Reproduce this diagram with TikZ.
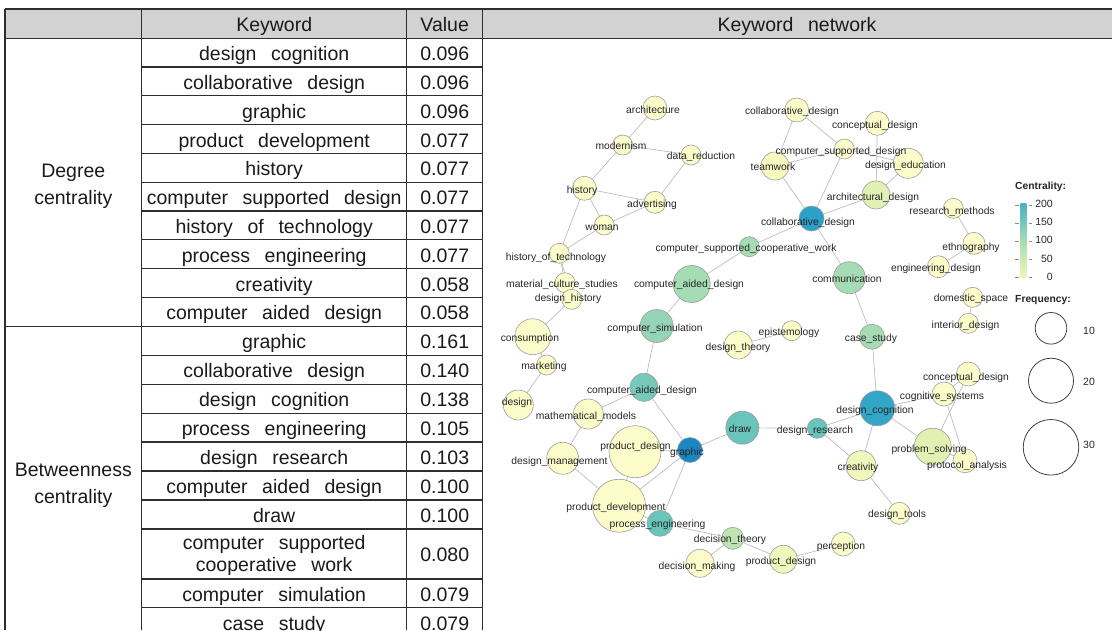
\documentclass[tikz,border=0pt]{standalone}
\usepackage{fontspec}
\setmainfont{Liberation Sans}[WordSpace=2.7]
\usetikzlibrary{backgrounds}

% table colours
\definecolor{rule}{HTML}{2E2E2E}
\definecolor{headfill}{HTML}{D2D2D2}
\definecolor{ink}{HTML}{1A1A1A}
% network colours
\definecolor{lblc}{HTML}{262626}
\definecolor{edgec}{HTML}{BDBDBD}
\definecolor{nodeline}{HTML}{9C9C9C}
\definecolor{cY}{HTML}{FCFCCB}
\definecolor{cTw}{HTML}{F7F9C0}
\definecolor{cLY}{HTML}{F0F7BD}
\definecolor{cLG}{HTML}{E2F1B3}
\definecolor{cG}{HTML}{A6DCB4}
\definecolor{cGs}{HTML}{96D4B7}
\definecolor{cGd}{HTML}{BDE4B1}
\definecolor{cTeal}{HTML}{69C4BB}
\definecolor{cTealL}{HTML}{76C8BB}
\definecolor{cBlue}{HTML}{2BA0C9}
\definecolor{cBlueL}{HTML}{33A5C6}
\definecolor{cBlueD}{HTML}{1A87C2}
% colour bar stops
\definecolor{cb0}{HTML}{FFFFCC}
\definecolor{cb50}{HTML}{DFF2B2}
\definecolor{cb100}{HTML}{A6DBB5}
\definecolor{cb150}{HTML}{5EBFC0}
\definecolor{cb200}{HTML}{2A9BC8}
\pgfdeclareverticalshading{centralitybar}{17pt}{color(0pt)=(cb0); color(18pt)=(cb50); color(37pt)=(cb100); color(55pt)=(cb150); color(74pt)=(cb200)}

\tikzset{
  tline/.style={draw=rule, line width=1.2pt},
  ttext/.style={font=\fontsize{19.5}{27}\selectfont, text=ink, inner sep=0pt, anchor=base, align=center},
  kw/.style 2 args={circle, draw=nodeline, line width=0.6pt, fill=#2, minimum size=#1, inner sep=0pt, outer sep=0pt},
  lbl/.style={font=\fontsize{10.3}{12}\selectfont, text=lblc, inner sep=0pt, text height=7.5pt, text depth=2pt},
  edge/.style={draw=edgec, line width=0.7pt},
  legtitle/.style={font=\fontsize{10.3}{12}\selectfont\bfseries, text=lblc, inner sep=0pt, anchor=west, text height=7.5pt, text depth=2pt},
  legnum/.style={font=\fontsize{10.5}{12}\selectfont, text=lblc, inner sep=0pt, text height=7.5pt, text depth=2pt},
  freqring/.style={circle, draw=black!75, line width=0.8pt, inner sep=0pt}
}

\begin{document}
\begin{tikzpicture}[x=1pt,y=-1pt]
\useasboundingbox (0,0) rectangle (1112,630);

% ---------------- table ----------------
\fill[headfill] (5,9.3) rectangle (1112,38.3);
\draw[tline, line width=1.7pt] (5,9.3) -- (1112,9.3);
\draw[tline] (5,38.3) -- (1112,38.3);
\draw[tline] (5,9.3) -- (5,630);
\draw[tline] (141.7,9.3) -- (141.7,630);
\draw[tline] (406.7,9.3) -- (406.7,630);
\draw[tline] (482.7,9.3) -- (482.7,630);
% row rules of the degree block
\foreach \i in {1,...,9}
  \draw[tline] (141.7,38.3+\i*28.79) -- (482.7,38.3+\i*28.79);
\draw[tline] (5,326.2) -- (482.7,326.2);
% row rules of the betweenness block
\foreach \i in {1,...,7}
  \draw[tline] (141.7,326.2+\i*28.97) -- (482.7,326.2+\i*28.97);
\draw[tline] (141.7,579) -- (482.7,579);
\draw[tline] (141.7,607.8) -- (482.7,607.8);

% header
\node[ttext] (hkw) at (274.2,31.6) {Keyword};
\node[ttext] (hval) at (444.7,31.6) {Value};
\node[ttext] (hnet) at (797,31.6) {Keyword network};

% category labels (base anchor sits on the last line)
\node[ttext] (degcat) at (73.3,204) {Degree\\centrality};
\node[ttext] (betcat) at (73.3,503.3) {Betweenness\\centrality};

% degree centrality rows
\foreach \k/\v [count=\i] in {design cognition/0.096, collaborative design/0.096, graphic/0.096,
  product development/0.077, history/0.077, computer supported design/0.077,
  history of technology/0.077, process engineering/0.077, creativity/0.058, computer aided design/0.058}{
  \node[ttext] (dk\i) at (274.2,38.3+\i*28.79-6.3) {\k};
  \node[ttext] (dv\i) at (444.7,38.3+\i*28.79-6.3) {\v};
}
% betweenness centrality rows
\foreach \k/\v [count=\i] in {graphic/0.161, collaborative design/0.140, design cognition/0.138,
  process engineering/0.105, design research/0.103, computer aided design/0.100, draw/0.100}{
  \node[ttext] (bk\i) at (274.2,326.2+\i*28.97-6.4) {\k};
  \node[ttext] (bv\i) at (444.7,326.2+\i*28.97-6.4) {\v};
}
\node[ttext, font=\fontsize{19.5}{22}\selectfont] (bk8) at (274.2,571.5) {computer supported\\cooperative work};
\node[ttext] (bv8) at (444.7,561.5) {0.080};
\node[ttext] (bk9) at (274.2,601.5) {computer simulation};
\node[ttext] (bv9) at (444.7,601.5) {0.079};
\node[ttext] (bk10) at (274.2,630.3) {case study};
\node[ttext] (bv10) at (444.7,630.3) {0.079};

% ---------------- keyword network ----------------
% circles: name, centre, diameter, fill
\node[kw={24}{cY}]     (arch)       at (655,108)     {};
\node[kw={20}{cY}]     (modern)     at (622.7,145)   {};
\node[kw={20}{cY}]     (datared)    at (691,155)     {};
\node[kw={24}{cY}]     (hist)       at (584.3,188.3) {};
\node[kw={22}{cY}]     (advert)     at (655,202.3)   {};
\node[kw={20}{cY}]     (woman)      at (604.3,225)   {};
\node[kw={20}{cY}]     (histtech)   at (559.3,253.3) {};
\node[kw={20}{cY}]     (matcult)    at (565,282.7)   {};
\node[kw={20}{cY}]     (deshist)    at (571.7,299.3) {};
\node[kw={36}{cY}]     (consum)     at (532.7,336.7) {};
\node[kw={20}{cY}]     (market)     at (546.7,365)   {};
\node[kw={30}{cY}]     (design)     at (518.3,405)   {};
\node[kw={24}{cY}]     (collabtop)  at (796.7,110)   {};
\node[kw={24}{cY}]     (concepttop) at (877.3,123.3) {};
\node[kw={20}{cY}]     (csd)        at (844.3,149)   {};
\node[kw={28}{cTw}]    (teamwork)   at (775,166)     {};
\node[kw={30}{cY}]     (desedu)     at (908.3,163.3) {};
\node[kw={28}{cLG}]    (archdes)    at (876,195)     {};
\node[kw={25}{cBlue}]  (collab)     at (811.5,218.5) {};
\node[kw={20}{cY}]     (resmeth)    at (953.3,208.3) {};
\node[kw={22}{cY}]     (ethno)      at (974,243.3)   {};
\node[kw={22}{cY}]     (engdes)     at (938.3,266.7) {};
\node[kw={20}{cG}]     (cscw)       at (749.3,246.7) {};
\node[kw={37}{cG}]     (cadtop)     at (691.7,284)   {};
\node[kw={32}{cG}]     (comm)       at (849.3,277.7) {};
\node[kw={33}{cGs}]    (csim)       at (656.7,326)   {};
\node[kw={20}{cY}]     (episte)     at (791.7,330.7) {};
\node[kw={28}{cY}]     (destheory)  at (738.3,345)   {};
\node[kw={20}{cY}]     (domsp)      at (972.7,297.3) {};
\node[kw={20}{cY}]     (interior)   at (968.3,323.3) {};
\node[kw={25}{cG}]     (casestudy)  at (872,336.7)   {};
\node[kw={28}{cTealL}] (cadlow)     at (644,387.3)   {};
\node[kw={30}{cY}]     (mathmod)    at (588.3,414)   {};
\node[kw={24}{cY}]     (conceptlow) at (968.3,374)   {};
\node[kw={24}{cY}]     (cogsys)     at (944,394)     {};
\node[kw={35}{cBlueL}] (descog)     at (877.3,408.3) {};
\node[kw={33}{cTeal}]  (draw)       at (742.3,427.7) {};
\node[kw={20}{cTeal}]  (desres)     at (817.3,428.3) {};
\node[kw={52}{cY}]     (proddes)    at (635,451.7)   {};
\node[kw={25}{cBlueD}] (graphic)    at (690,450)     {};
\node[kw={32}{cY}]     (desmgmt)    at (562.7,458.3) {};
\node[kw={37}{cLG}]    (probsolv)   at (932.7,446.7) {};
\node[kw={24}{cY}]     (protocol)   at (965,460.7)   {};
\node[kw={30}{cLY}]    (creativity) at (861,465.7)   {};
\node[kw={53}{cY}]     (proddev)    at (619,505.7)   {};
\node[kw={26}{cTeal}]  (proceng)    at (660,523.3)   {};
\node[kw={22}{cY}]     (destools)   at (899.3,513.3) {};
\node[kw={22}{cGd}]    (dectheory)  at (732.7,538.3) {};
\node[kw={28}{cY}]     (decmaking)  at (700,563.3)   {};
\node[kw={28}{cLY}]    (proddesb)   at (783.3,559.3) {};
\node[kw={24}{cY}]     (percep)     at (843.3,544)   {};

% co-occurrence links, kept under the circles
\begin{scope}[on background layer]
\foreach \a/\b in {arch/modern, modern/datared, modern/hist, datared/advert, hist/advert,
  hist/woman, woman/advert, hist/histtech, woman/histtech, histtech/matcult, histtech/deshist,
  matcult/deshist, deshist/consum, consum/market, market/design,
  collabtop/teamwork, collabtop/csd, csd/teamwork, csd/collab, csd/desedu,
  concepttop/archdes, desedu/archdes, archdes/collab, teamwork/collab,
  collab/cscw, cscw/cadtop, collab/comm, cadtop/csim, csim/cadlow,
  cadlow/mathmod, cadlow/graphic, mathmod/desmgmt, desmgmt/proddev,
  proddes/proddev, proddes/graphic, proddev/graphic, graphic/proceng, proddev/proceng,
  graphic/draw, draw/desres, desres/descog, desres/creativity,
  descog/casestudy, casestudy/comm, descog/creativity, descog/probsolv, descog/cogsys,
  cogsys/conceptlow, conceptlow/probsolv, cogsys/protocol, probsolv/protocol,
  creativity/destools, proceng/dectheory, dectheory/decmaking, dectheory/proddesb,
  proddesb/percep, resmeth/ethno, ethno/engdes, domsp/interior, episte/destheory}
  \draw[edge] (\a) -- (\b);
\end{scope}

% keyword labels
\node[lbl] (arch-t)       at (653,111)   {architecture};
\node[lbl] (modern-t)     at (621,147)   {modernism};
\node[lbl] (datared-t)    at (701,157)   {data\_reduction};
\node[lbl] (hist-t)       at (582,191)   {history};
\node[lbl] (advert-t)     at (652,205)   {advertising};
\node[lbl] (woman-t)      at (602,228)   {woman};
\node[lbl] (histtech-t)   at (556,258)   {history\_of\_technology};
\node[lbl] (matcult-t)    at (562,285)   {material\_culture\_studies};
\node[lbl] (deshist-t)    at (568,299)   {design\_history};
\node[lbl] (consum-t)     at (530,339)   {consumption};
\node[lbl] (market-t)     at (544,367)   {marketing};
\node[lbl] (design-t)     at (517,403)   {design};
\node[lbl] (collabtop-t)  at (792,112)   {collaborative\_design};
\node[lbl] (concepttop-t) at (875,126)   {conceptual\_design};
\node[lbl] (csd-t)        at (841,152)   {computer\_supported\_design};
\node[lbl] (teamwork-t)   at (773,168)   {teamwork};
\node[lbl] (desedu-t)     at (905.5,166) {design\_education};
\node[lbl] (archdes-t)    at (873,198)   {architectural\_design};
\node[lbl] (collab-t)     at (808,222.5) {collaborative\_design};
\node[lbl] (resmeth-t)    at (952,212)   {research\_methods};
\node[lbl] (ethno-t)      at (971,248)   {ethnography};
\node[lbl] (engdes-t)     at (936,269)   {engineering\_design};
\node[lbl] (cscw-t)       at (746,248.3) {computer\_supported\_cooperative\_work};
\node[lbl] (cadtop-t)     at (689,285)   {computer\_aided\_design};
\node[lbl] (comm-t)       at (847,279.5) {communication};
\node[lbl] (csim-t)       at (655,329)   {computer\_simulation};
\node[lbl] (episte-t)     at (789,333)   {epistemology};
\node[lbl] (destheory-t)  at (738,348)   {design\_theory};
\node[lbl] (domsp-t)      at (971,299)   {domestic\_space};
\node[lbl] (interior-t)   at (965.5,326) {interior\_design};
\node[lbl] (casestudy-t)  at (871,339)   {case\_study};
\node[lbl] (cadlow-t)     at (642,391)   {computer\_aided\_design};
\node[lbl] (mathmod-t)    at (586,417)   {mathematical\_models};
\node[lbl] (conceptlow-t) at (966,378)   {conceptual\_design};
\node[lbl] (cogsys-t)     at (942,397)   {cognitive\_systems};
\node[lbl] (descog-t)     at (875,411)   {design\_cognition};
\node[lbl] (draw-t)       at (740,430)   {draw};
\node[lbl] (desres-t)     at (815,431)   {design\_research};
\node[lbl] (proddes-t)    at (635.5,447) {product\_design};
\node[lbl] (graphic-t)    at (687,453)   {graphic};
\node[lbl] (desmgmt-t)    at (559.5,462) {design\_management};
\node[lbl] (probsolv-t)   at (929,450)   {problem\_solving};
\node[lbl] (protocol-t)   at (967,466)   {protocol\_analysis};
\node[lbl] (creativity-t) at (858,468)   {creativity};
\node[lbl] (proddev-t)    at (616,508)   {product\_development};
\node[lbl] (proceng-t)    at (657.5,524.5) {process\_engineering};
\node[lbl] (destools-t)   at (897,515)   {design\_tools};
\node[lbl] (dectheory-t)  at (730,540)   {decision\_theory};
\node[lbl] (decmaking-t)  at (697,567)   {decision\_making};
\node[lbl] (proddesb-t)   at (781,562)   {product\_design};
\node[lbl] (percep-t)     at (841,547)   {perception};

% ---------------- legends ----------------
\node[legtitle] (centtitle) at (1015,186.7) {Centrality:};
\shade[shading=centralitybar] (1015,203) rectangle (1032,277.5);
\foreach \y/\t in {205/200, 223/150, 241/100, 259.3/50, 277.3/0}{
  \draw[black!45, line width=0.6pt] (1015,\y) -- (1018.5,\y);
  \draw[black!45, line width=0.6pt] (1028.5,\y) -- (1032,\y);
  \node[legnum, anchor=east] (cb\t) at (1053,\y) {\t};
}
\node[legtitle] (freqtitle) at (1015,299.3) {Frequency:};
\node[freqring, minimum size=31.6pt] (f10) at (1051,328.3) {};
\node[freqring, minimum size=45pt]   (f20) at (1051,380.7) {};
\node[freqring, minimum size=55.6pt] (f30) at (1051,447.3) {};
\node[legnum] (f10-t) at (1089,331.5) {10};
\node[legnum] (f20-t) at (1089,383)   {20};
\node[legnum] (f30-t) at (1089,446)   {30};
\end{tikzpicture}
\end{document}
